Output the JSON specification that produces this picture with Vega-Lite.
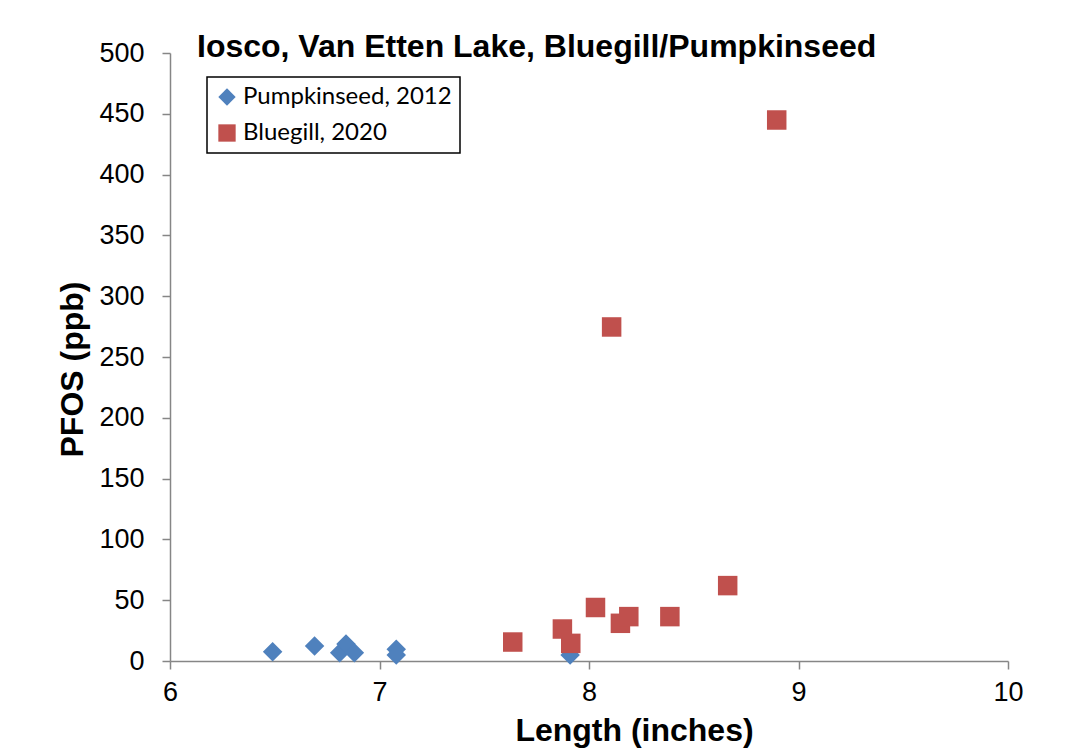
{
  "$schema": "https://vega.github.io/schema/vega-lite/v6.json",
  "autosize": {"type": "none"},
  "width": 838,
  "height": 608,
  "padding": {"left": 170, "top": 53, "right": 60, "bottom": 90},
  "background": "white",
  "config": {
    "view": {"stroke": null},
    "font": "Liberation Sans",
    "legend": {"strokeWidth": 1.5}
  },
  "title": {
    "text": "Iosco, Van Etten Lake, Bluegill/Pumpkinseed",
    "font": "Liberation Sans",
    "fontSize": 32,
    "fontWeight": "bold",
    "color": "black",
    "anchor": "start",
    "frame": "group",
    "orient": "top",
    "baseline": "alphabetic",
    "offset": 0,
    "dx": 27,
    "dy": 50
  },
  "data": {
    "values": [
      {"species": "Pumpkinseed, 2012", "length": 6.49, "pfos": 7.6},
      {"species": "Pumpkinseed, 2012", "length": 6.69, "pfos": 12.3},
      {"species": "Pumpkinseed, 2012", "length": 6.81, "pfos": 6.8},
      {"species": "Pumpkinseed, 2012", "length": 6.84, "pfos": 14},
      {"species": "Pumpkinseed, 2012", "length": 6.88, "pfos": 6.8},
      {"species": "Pumpkinseed, 2012", "length": 7.08, "pfos": 9.6},
      {"species": "Pumpkinseed, 2012", "length": 7.08, "pfos": 5},
      {"species": "Pumpkinseed, 2012", "length": 7.91, "pfos": 5},
      {"species": "Bluegill, 2020", "length": 7.636, "pfos": 15.6},
      {"species": "Bluegill, 2020", "length": 7.873, "pfos": 26.3},
      {"species": "Bluegill, 2020", "length": 7.913, "pfos": 14.5},
      {"species": "Bluegill, 2020", "length": 8.031, "pfos": 44},
      {"species": "Bluegill, 2020", "length": 8.15, "pfos": 31},
      {"species": "Bluegill, 2020", "length": 8.19, "pfos": 36.5},
      {"species": "Bluegill, 2020", "length": 8.386, "pfos": 36.5},
      {"species": "Bluegill, 2020", "length": 8.662, "pfos": 62},
      {"species": "Bluegill, 2020", "length": 8.108, "pfos": 274.7},
      {"species": "Bluegill, 2020", "length": 8.896, "pfos": 444.9}
    ]
  },
  "mark": {"type": "point", "filled": true, "opacity": 1, "size": 380},
  "encoding": {
    "x": {
      "field": "length",
      "type": "quantitative",
      "scale": {"domain": [6, 10], "nice": false, "zero": false},
      "axis": {
        "title": "Length (inches)",
        "values": [6, 7, 8, 9, 10],
        "grid": false,
        "domainColor": "#868686",
        "domainWidth": 1.5,
        "tickColor": "#868686",
        "tickWidth": 1.5,
        "tickSize": 8,
        "labelFont": "Liberation Sans",
        "labelFontSize": 27,
        "labelColor": "black",
        "labelPadding": 10,
        "labelFlush": false,
        "titleFont": "Liberation Sans",
        "titleFontSize": 32,
        "titleFontWeight": "bold",
        "titleColor": "black",
        "titleX": 464,
        "titleY": 69,
        "titleBaseline": "middle",
        "titleAlign": "center"
      }
    },
    "y": {
      "field": "pfos",
      "type": "quantitative",
      "scale": {"domain": [0, 500], "nice": false},
      "axis": {
        "title": "PFOS (ppb)",
        "values": [0, 50, 100, 150, 200, 250, 300, 350, 400, 450, 500],
        "grid": false,
        "domainColor": "#868686",
        "domainWidth": 1.5,
        "tickColor": "#868686",
        "tickWidth": 1.5,
        "tickSize": 8,
        "labelFont": "Liberation Sans",
        "labelFontSize": 27,
        "labelColor": "black",
        "labelPadding": 18,
        "labelFlush": false,
        "titleFont": "Liberation Sans",
        "titleFontSize": 32,
        "titleFontWeight": "bold",
        "titleColor": "black",
        "titleX": -98,
        "titleY": 316,
        "titleAngle": -90,
        "titleBaseline": "middle",
        "titleAlign": "center"
      }
    },
    "color": {
      "field": "species",
      "type": "nominal",
      "scale": {"domain": ["Pumpkinseed, 2012", "Bluegill, 2020"], "range": ["#4F81BD", "#C0504D"]},
      "legend": {
        "title": null,
        "orient": "none",
        "legendX": 37,
        "legendY": 24,
        "padding": 8,
        "strokeColor": "black",
        "fillColor": "white",
        "labelFont": "Lato",
        "labelFontSize": 24,
        "labelLimit": 0,
        "labelColor": "black",
        "symbolSize": 300,
        "symbolOpacity": 1,
        "rowPadding": 12,
        "labelOffset": 4
      }
    },
    "shape": {
      "field": "species",
      "type": "nominal",
      "scale": {"domain": ["Pumpkinseed, 2012", "Bluegill, 2020"], "range": ["diamond", "square"]},
      "legend": null
    }
  }
}
